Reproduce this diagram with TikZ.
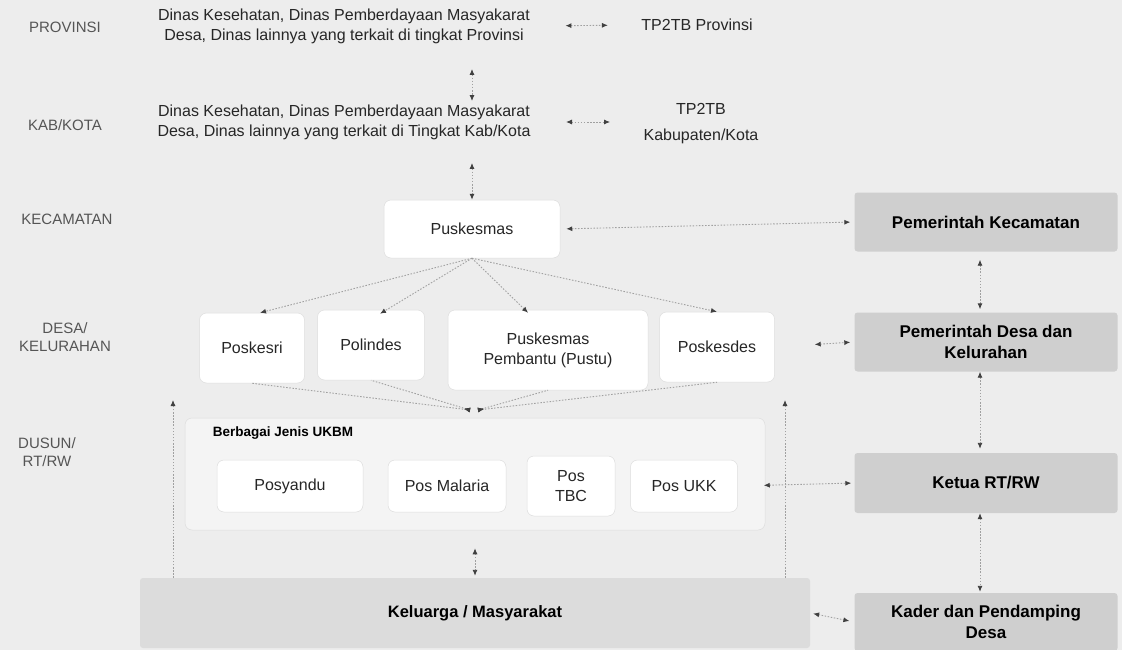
\documentclass[tikz,border=0pt]{standalone}
\usepackage{fontspec}
\setmainfont{Liberation Sans}
\usetikzlibrary{arrows.meta}
\definecolor{bg}{HTML}{EDEDED}
\definecolor{gbox}{HTML}{CFCFCF}
\definecolor{kbox}{HTML}{DCDCDC}
\definecolor{lbl}{HTML}{555555}
\definecolor{ln}{HTML}{A0A0A0}
\definecolor{edge}{HTML}{DDDDDD}
\tikzset{
  >={Latex[length=6pt,width=5pt,color=black!75]},
  lab/.style={text=lbl,font=\fontsize{15}{18}\selectfont,align=center},
  txt/.style={text=black!85,font=\fontsize{16}{20}\selectfont,align=center},
  wbox/.style={txt,fill=white,draw=edge,line width=0.5pt,rounded corners=7pt},
  cont/.style={fill=bg!60!white,draw=edge,line width=0.5pt,rounded corners=7pt},
  gnode/.style={fill=gbox,text=black,font=\bfseries\fontsize{17}{21}\selectfont,align=center,rounded corners=3pt},
  link/.style={draw=ln,line width=0.9pt,dash pattern=on 1.5pt off 1.6pt},
}
\begin{document}
\begin{tikzpicture}[x=1pt,y=-1pt]
\fill[bg] (0,0) rectangle (1122,650);
\useasboundingbox (0,0) rectangle (1122,650);

% level labels
\node[lab] (lprov) at (65,27) {PROVINSI};
\node[lab] (lkab) at (65,125) {KAB/KOTA};
\node[lab] (lkec) at (67,219) {KECAMATAN};
\node[lab] (ldesa) at (65,337) {DESA/\\KELURAHAN};
\node[lab] (ldus) at (47,452) {DUSUN/\\RT/RW};

% top levels
\node[txt] (prov) at (344,26) {Dinas Kesehatan, Dinas Pemberdayaan Masyakarat\\Desa, Dinas lainnya yang terkait di tingkat Provinsi};
\node[txt] (kab) at (344,122) {Dinas Kesehatan, Dinas Pemberdayaan Masyakarat\\Desa, Dinas lainnya yang terkait di Tingkat Kab/Kota};
\node[txt] (tp1) at (697,25) {TP2TB Provinsi};
\node[txt,font=\fontsize{16}{26}\selectfont] (tp2) at (701,124) {TP2TB\\Kabupaten/Kota};

% kecamatan
\node[wbox,minimum width=176,minimum height=58] (pusk) at (472,229) {Puskesmas};
\node[gnode,minimum width=263,minimum height=59] (pemkec) at (986,222) {Pemerintah Kecamatan};

% desa
\node[wbox,minimum width=105,minimum height=70] (poskesri) at (252,348) {Poskesri};
\node[wbox,minimum width=107,minimum height=70] (polindes) at (371,345) {Polindes};
\node[wbox,minimum width=200,minimum height=80] (pustu) at (548,350) {Puskesmas\\Pembantu (Pustu)};
\node[wbox,minimum width=115,minimum height=70] (poskesdes) at (717,347) {Poskesdes};
\node[gnode,minimum width=263,minimum height=59] (pemdesa) at (986,342) {Pemerintah Desa dan\\Kelurahan};

% dusun
\node[cont,minimum width=580,minimum height=112] (ukbm) at (475,474) {};
\node[txt,font=\bfseries\fontsize{13.5}{16}\selectfont,text=black] (ukbmlbl) at (283,433) {Berbagai Jenis UKBM};
\node[wbox,minimum width=146,minimum height=52] (posy) at (290,486) {Posyandu};
\node[wbox,minimum width=118,minimum height=52] (mal) at (447,486) {Pos Malaria};
\node[wbox,minimum width=88,minimum height=60] (tbc) at (571,486) {Pos\\TBC};
\node[wbox,minimum width=107,minimum height=52] (ukk) at (684,486) {Pos UKK};
\node[gnode,minimum width=263,minimum height=60] (ketua) at (986,483) {Ketua RT/RW};

% keluarga
\node[fill=kbox,rounded corners=3pt,minimum width=670,minimum height=70,font=\bfseries\fontsize{16.5}{20}\selectfont] (kel) at (475,613) {Keluarga / Masyarakat};
\node[gnode,minimum width=263,minimum height=58] (kader) at (986,622) {Kader dan Pendamping\\Desa};

\coordinate (cvl) at (470,410);
\coordinate (cvr) at (478,410);
\coordinate (lt) at (173,400);
\coordinate (rt) at (785,400);

% connectors
\draw[link,<->,shorten <=32pt,shorten >=30pt] (prov.east) -- (tp1.west);
\draw[link,<->,shorten <=32pt,shorten >=30pt] (kab.east) -- (kab.east -| tp2.west);
\draw[link,<->,shorten <=22pt] (prov.south -| pusk) -- (kab.north -| pusk);
\draw[link,<->,shorten <=20pt] (kab.south -| pusk) -- (pusk.north);
\draw[link,<->,shorten <=6pt,shorten >=4pt] (pusk.east) -- (pemkec.west);

\draw[link,->] (pusk.south) -- ([xshift=8pt]poskesri.north);
\draw[link,->] (pusk.south) -- ([xshift=9pt,yshift=-4pt]polindes.north);
\draw[link,->] (pusk.south) -- ([xshift=-20pt,yshift=-3pt]pustu.north);
\draw[link,->] (pusk.south) -- (poskesdes.north);

\draw[link,{Latex[reversed,length=6pt,width=5pt,color=black!75]}-] (cvl) -- (poskesri.south);
\draw[link,{Latex[reversed,length=6pt,width=5pt,color=black!75]}-] (cvl) -- (polindes.south);
\draw[link,{Latex[reversed,length=6pt,width=5pt,color=black!75]}-] (cvr) -- (pustu.south);
\draw[link,{Latex[reversed,length=6pt,width=5pt,color=black!75]}-] (cvr) -- (poskesdes.south);

\draw[link,<->,shorten <=40pt,shorten >=4pt] (poskesdes.east) -- (pemdesa.west);
\draw[link,<->,shorten <=26pt,shorten >=3pt] (ukk.east) -- (ketua.west);
\draw[link,<->,shorten <=3pt,shorten >=5pt] (kel.east) -- (kader.west);

\draw[link,<->,shorten <=8pt,shorten >=3pt] ([xshift=-6pt]pemkec.south) -- ([xshift=-6pt]pemdesa.north);
\draw[link,<->,shorten >=4pt] ([xshift=-6pt]pemdesa.south) -- ([xshift=-6pt]ketua.north);
\draw[link,<->,shorten >=1pt] ([xshift=-6pt]ketua.south) -- ([xshift=-6pt]kader.north);

\draw[link,<->,shorten <=18pt,shorten >=2pt] (ukbm.south) -- (kel.north);
\draw[link,->] (kel.north -| lt) -- (lt);
\draw[link,->] (kel.north -| rt) -- (rt);
\end{tikzpicture}
\end{document}
